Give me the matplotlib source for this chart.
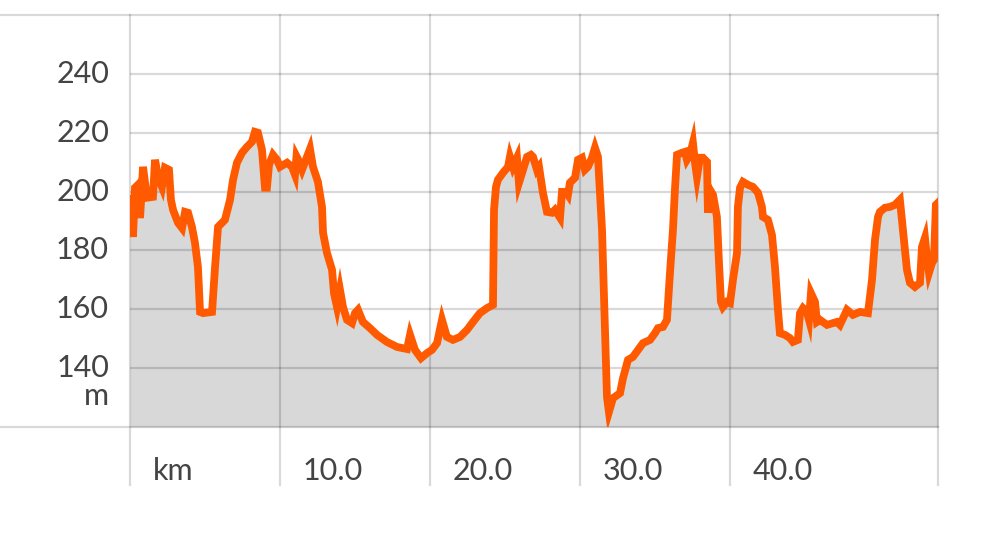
import matplotlib
matplotlib.use("Agg")
import matplotlib.pyplot as plt

# distance along route (km) and elevation (m)
km = [0.0, 0.2, 0.33, 0.53, 0.67, 0.87, 1.13, 1.53, 1.67, 1.87, 2.13, 2.33, 2.6, 2.73, 2.87,
      3.2, 3.47, 3.67, 3.87, 4.13, 4.33, 4.53, 4.67, 4.87, 5.47, 5.67, 5.87, 6.33, 6.67, 6.87,
      7.13, 7.47, 7.8, 8.13, 8.33, 8.53, 8.8, 9.0, 9.13, 9.27, 9.53, 9.8, 10.0, 10.47, 10.8,
      11.0, 11.1, 11.2, 11.47, 11.67, 12.0, 12.2, 12.53, 12.8, 12.87, 13.13, 13.47, 13.6, 13.8,
      14.0, 14.2, 14.47, 14.8, 15.0, 15.2, 15.53, 16.0, 16.47, 17.13, 17.8, 18.47, 18.67, 19.0,
      19.4, 19.8, 20.13, 20.47, 20.8, 21.13, 21.53, 22.0, 22.47, 22.87, 23.33, 23.8, 24.2, 24.27,
      24.4, 24.53, 24.87, 25.2, 25.33, 25.53, 25.8, 25.93, 26.2, 26.47, 26.73, 26.87, 27.13,
      27.27, 27.53, 27.8, 28.13, 28.33, 28.67, 28.8, 29.07, 29.2, 29.33, 29.67, 29.87, 30.13,
      30.33, 30.53, 30.8, 31.0, 31.2, 31.47, 31.67, 31.8, 31.93, 32.2, 32.67, 32.87, 33.2, 33.53,
      33.87, 34.2, 34.67, 35.0, 35.2, 35.53, 35.8, 36.0, 36.2, 36.33, 36.47, 36.8, 37.0, 37.13,
      37.33, 37.53, 37.67, 37.8, 38.0, 38.2, 38.47, 38.53, 38.67, 38.87, 39.13, 39.27, 39.4,
      39.53, 39.8, 40.0, 40.2, 40.47, 40.53, 40.67, 40.87, 41.2, 41.53, 41.87, 42.13, 42.2,
      42.53, 42.8, 43.0, 43.2, 43.33, 43.67, 44.0, 44.2, 44.53, 44.67, 44.87, 45.13, 45.27,
      45.4, 45.67, 45.8, 46.0, 46.47, 47.13, 47.33, 47.8, 48.2, 48.67, 49.2, 49.47, 49.67,
      49.87, 50.0, 50.33, 50.67, 51.0, 51.33, 51.53, 51.8, 52.0, 52.33, 52.67, 52.8, 53.0,
      53.13, 53.27, 53.47, 53.6, 53.73, 53.87]
elev = [197.5, 184.6, 201.3, 202.3, 191.0, 208.4, 197.9, 198.2, 210.8, 205.0, 201.6, 208.1, 207.4,
        197.2, 193.8, 189.4, 187.6, 193.1, 192.8, 188.0, 182.6, 174.4, 159.1, 158.7, 159.1, 174.4,
        188.0, 190.4, 197.2, 204.0, 209.8, 213.2, 215.2, 216.9, 220.3, 220.0, 214.2, 201.3, 201.3,
        209.1, 212.5, 210.8, 208.4, 209.8, 208.4, 205.7, 212.0, 211.0, 207.4, 210.1, 214.5, 208.4,
        203.3, 194.8, 186.0, 179.2, 173.4, 165.5, 160.8, 166.6, 160.8, 156.4, 155.3, 158.7, 159.8,
        155.7, 153.6, 151.3, 148.9, 147.2, 146.5, 151.3, 146.2, 143.4, 145.1, 146.2, 148.5, 156.4,
        150.6, 149.6, 150.6, 153.0, 155.7, 158.7, 160.4, 161.5, 193.8, 201.6, 204.0, 206.4, 208.4,
        211.8, 208.4, 211.5, 202.9, 207.4, 211.8, 212.5, 211.8, 207.4, 208.4, 199.6, 193.1, 192.8,
        193.8, 191.1, 199.9, 199.9, 198.9, 203.0, 204.7, 210.8, 211.5, 207.4, 208.4, 211.5, 214.9,
        211.8, 187.0, 153.0, 130.2, 125.1, 129.8, 131.5, 136.6, 142.8, 143.8, 146.2, 148.5, 149.6,
        151.9, 153.6, 154.0, 156.4, 172.3, 187.0, 200.6, 212.5, 213.2, 213.5, 210.8, 212.5, 216.6,
        209.8, 205.0, 211.5, 211.5, 210.1, 192.8, 200.6, 198.9, 191.4, 175.7, 162.5, 160.8, 162.5,
        162.1, 170.0, 179.2, 194.8, 201.3, 203.3, 202.3, 201.6, 199.6, 194.8, 191.4, 190.4, 185.3,
        174.4, 159.8, 151.9, 151.3, 150.2, 148.9, 149.6, 158.7, 160.4, 159.1, 156.4, 165.5, 162.5,
        155.7, 156.4, 154.7, 155.7, 154.7, 159.8, 158.1, 159.1, 158.7, 170.0, 183.6, 191.4, 193.1,
        194.5, 194.8, 195.5, 197.2, 187.0, 173.4, 169.0, 167.6, 169.0, 181.2, 184.3, 177.8, 172.4,
        175.7, 176.8, 195.5, 196.2]

y_ticks = [140, 160, 180, 200, 220, 240]
x_ticks = [0, 10, 20, 30, 40]
x_labels = ["km", "10.0", "20.0", "30.0", "40.0"]
x_max = 53.87
y_min, y_max = 120, 260

plt.rcParams['font.family'] = ['Lato', 'DejaVu Sans']

W, H = 989, 534
fig = plt.figure(figsize=(W / 100, H / 100), dpi=100)
L, R, T, B = 130, 938, 15, 427
ax = fig.add_axes([L / W, (H - B) / H, (R - L) / W, (B - T) / H])
ax.set_xlim(0, x_max)
ax.set_ylim(y_min, y_max)
for s in ax.spines.values():
    s.set_visible(False)
ax.set_xticks([])
ax.set_yticks([])

line_col = '#ff5a00'
fill_col = '#d8d8d8'
grid_kw = dict(color='black', alpha=0.15, linewidth=1.6)

ax.fill_between(km, y_min, elev, color=fill_col, linewidth=0, zorder=1)

ext_left = -L / (R - L)
ext_down = -(485 - B) / (B - T)
for yv in y_ticks:
    ax.axhline(yv, **grid_kw, zorder=2)
ax.axhline(y_max, xmin=ext_left, xmax=1, clip_on=False, **grid_kw, zorder=2)
ax.axhline(y_min, xmin=ext_left, xmax=1, clip_on=False, **grid_kw, zorder=2)
for xv in x_ticks + [x_max]:
    ax.axvline(xv, ymin=ext_down, ymax=1, clip_on=False, **grid_kw, zorder=2)

ax.plot(km, elev, color=line_col, linewidth=5.6, solid_joinstyle='miter', zorder=3)

txt_col = '#444444'
fs = 22
for yv in y_ticks:
    ax.annotate(str(yv), xy=(0, yv), xycoords=('axes fraction', 'data'),
                xytext=(-21, 0), textcoords='offset pixels',
                ha='right', va='center', fontsize=fs, color=txt_col)
ax.annotate('m', xy=(0, 140), xycoords=('axes fraction', 'data'),
            xytext=(-21, -28), textcoords='offset pixels',
            ha='right', va='center', fontsize=fs, color=txt_col)
for xv, lab in zip(x_ticks, x_labels):
    ax.annotate(lab, xy=(xv, 0), xycoords=('data', 'axes fraction'),
                xytext=(23, -44), textcoords='offset pixels',
                ha='left', va='center', fontsize=fs, color=txt_col)

fig.savefig('out.png', dpi=100)
